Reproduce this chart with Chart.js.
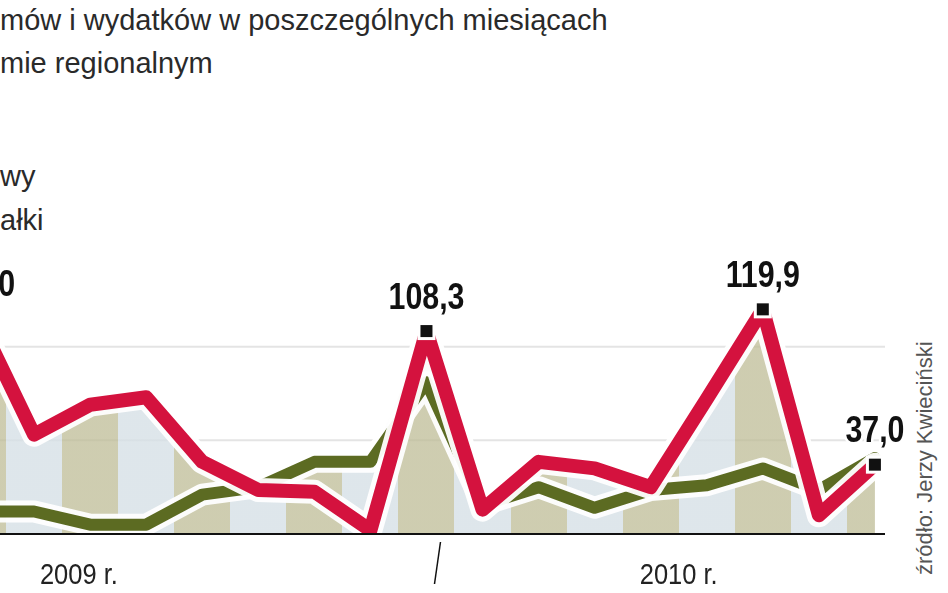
<!DOCTYPE html>
<html><head><meta charset="utf-8">
<script src="https://cdn.jsdelivr.net/npm/chart.js@4/dist/chart.umd.min.js"></script>
<style>
html,body{margin:0;padding:0;background:#fff;overflow:hidden}
#wrap{position:relative;width:948px;height:593px}
.t{position:absolute;left:0;font-family:"Liberation Sans",Arial,sans-serif;color:#2a2a2a;font-size:29px;white-space:nowrap}
#src{position:absolute;left:912px;top:575px;transform-origin:0 0;transform:rotate(-90deg);font-family:"Liberation Sans",Arial,sans-serif;font-size:22px;color:#555;white-space:nowrap}
canvas{position:absolute;left:0;top:0}
</style></head><body>
<div id="wrap">
<div class="t" style="top:4px">mów i wydatków w poszczególnych miesiącach</div>
<div class="t" style="top:47px">mie regionalnym</div>
<div class="t" style="top:160px">wy</div>
<div class="t" style="top:204px">ałki</div>
<div id="src">źródło: Jerzy Kwieciński</div>
<canvas id="c" width="948" height="593"></canvas>
</div>
<script>
const months = ["IV","V","VI","VII","VIII","IX","X","XI","XII","I","II","III","IV","V","VI","VII","VIII"];
const wydatki = [115.0,53,69,73,38.5,23.5,22.5,2,108.3,13,38.5,35,25,72,119.9,10,37.0];
const dochody = [12,12,5,5,21,25,38.5,38.5,81,15.5,25,14,23.5,26,35,23.5,40.6];
const labels = {0:"115,0",8:"108,3",14:"119,9",16:"37,0"};
const yearLabels = [["2009 r.",1.8],["2010 r.",12.5]];
const yearDivider = 8.25;

const pts = a => a.map((v,i)=>({x:i,y:v}));
const areaTop = wydatki.map((v,i)=>Math.max(v,dochody[i]));

const stripes = (ctx)=>{
  const ch=ctx.chart, ca=ch.chartArea; if(!ca) return '#ddd';
  const xs=ch.scales.x, c=ch.ctx;
  const g=c.createLinearGradient(0,0,ch.width,0);
  for(let i=-1;i<=17;i++){
    const a=xs.getPixelForValue(i-0.5)/ch.width, b=xs.getPixelForValue(i+0.5)/ch.width;
    const col = i%2===0 ? 'rgba(190,188,150,0.75)' : 'rgba(214,224,230,0.8)';
    const ca2=Math.min(Math.max(a,0),1), cb=Math.min(Math.max(b,0),1);
    if(cb>ca2){g.addColorStop(ca2,col);g.addColorStop(cb,col);}
  }
  return g;
};

const plug={id:'p',
 beforeDatasetsDraw(ch){
   const {ctx,chartArea:ca,scales:{x,y}}=ch;
   ctx.save();ctx.strokeStyle='#e4e4e4';ctx.lineWidth=2;
   [50,100].forEach(v=>{const py=y.getPixelForValue(v);ctx.beginPath();ctx.moveTo(0,py);ctx.lineTo(ca.right,py);ctx.stroke();});
   ctx.restore();
 },
 afterDatasetsDraw(ch){
   const c=ch.ctx, ca=ch.chartArea, x=ch.scales.x, y=ch.scales.y;
   c.save();
   const by=y.getPixelForValue(0);
   c.strokeStyle='#111';c.lineWidth=2;c.beginPath();c.moveTo(0,by);c.lineTo(ca.right,by);c.stroke();
   c.lineWidth=1.5;const dx=x.getPixelForValue(yearDivider);
   c.beginPath();c.moveTo(dx,by+8);c.lineTo(dx-6,by+50);c.stroke();
   c.fillStyle='#222';c.textBaseline='middle';
   yearLabels.forEach(([t,v])=>{
     c.save();c.translate(x.getPixelForValue(v),by+42);c.scale(0.85,1);
     c.font='30px "Liberation Sans",Arial';c.textAlign='center';c.fillText(t,0,0);c.restore();
   });
   Object.entries(labels).forEach(([i,t])=>{
     const px=x.getPixelForValue(+i), py=y.getPixelForValue(wydatki[+i]);
     c.save();c.translate(px,py-14);c.scale(0.82,1);
     c.font='bold 37px "Liberation Sans",Arial';c.textAlign='center';c.textBaseline='bottom';
     c.strokeStyle='#fff';c.lineWidth=6;c.strokeText(t,0,0);
     c.fillStyle='#111';c.fillText(t,0,0);c.restore();
     c.fillStyle='#fff';c.fillRect(px-9,py-9,18,18);
     c.fillStyle='#111';c.fillRect(px-6,py-6,12,12);
   });
   c.restore();
 }};

new Chart(document.getElementById('c'),{
 type:'line',
 data:{datasets:[
  {data:pts(areaTop),fill:'origin',backgroundColor:stripes,borderWidth:0,pointRadius:0,order:5},
  {data:pts(dochody),borderColor:'rgba(255,255,255,0.95)',borderWidth:22,pointRadius:0,order:4,fill:false},
  {data:pts(dochody),borderColor:'#5c6b22',borderWidth:12,pointRadius:0,order:3,fill:false},
  {data:pts(wydatki),borderColor:'rgba(255,255,255,0.95)',borderWidth:24,pointRadius:0,order:2,fill:false},
  {data:pts(wydatki),borderColor:'#d4123e',borderWidth:14,pointRadius:0,order:1,fill:false}
 ]},
 options:{responsive:false,animation:false,
  layout:{padding:{left:0,right:63,top:0,bottom:59}},
  elements:{line:{tension:0,borderJoinStyle:'round',borderCapStyle:'round'}},
  plugins:{legend:{display:false},tooltip:{enabled:false}},
  scales:{
   x:{type:'linear',min:0.392,max:16.18,display:false},
   y:{min:0,max:285,display:false}
  }},
 plugins:[plug]
});
</script>
</body></html>
